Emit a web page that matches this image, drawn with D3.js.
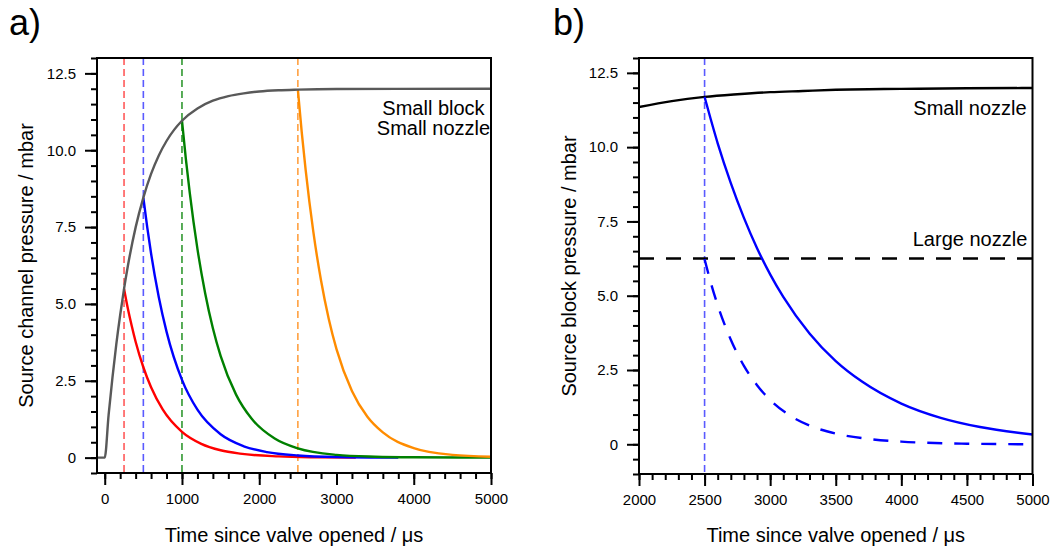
<!DOCTYPE html>
<html>
<head>
<meta charset="utf-8">
<script src="https://cdn.jsdelivr.net/npm/d3@7"></script>
<style>
  html, body { margin: 0; padding: 0; background: #fff; }
  svg { display: block; font-family: "Liberation Sans", Arial, sans-serif; }
</style>
</head>
<body>
<svg id="chart" width="1054" height="551"></svg>
<script>
// ---- Panel a: source channel pressure ----
const channelTime = [-100, 0, 50, 100, 150, 200, 250, 300, 400, 500, 600, 700, 800, 900, 1000, 1200, 1400, 1600, 1800, 2000, 2250, 2500, 3000, 5000];
const channelFill = [0, 0, 1.38, 2.60, 3.69, 4.64, 5.49, 6.24, 7.49, 8.46, 9.23, 9.83, 10.30, 10.67, 10.96, 11.36, 11.61, 11.76, 11.85, 11.91, 11.95, 11.97, 11.99, 12.00];

const close250Time = [250, 300, 350, 400, 500, 600, 750, 1000, 1250, 1500, 1750, 2250, 2750, 3250];
const close250Vals = [5.49, 4.84, 4.28, 3.77, 2.94, 2.29, 1.57, 0.84, 0.45, 0.24, 0.13, 0.04, 0.01, 0.00];

const close500Time = [500, 550, 600, 700, 800, 1000, 1200, 1500, 1800, 2100, 2500, 3000, 3800];
const close500Vals = [8.46, 7.50, 6.64, 5.22, 4.10, 2.53, 1.56, 0.76, 0.37, 0.18, 0.07, 0.02, 0.00];

const close1000Time = [1000, 1050, 1100, 1200, 1300, 1400, 1500, 1700, 1900, 2200, 2500, 3000, 3500, 4000, 5000];
const close1000Vals = [10.96, 9.72, 8.63, 6.79, 5.35, 4.21, 3.31, 2.05, 1.27, 0.62, 0.30, 0.09, 0.03, 0.01, 0.00];

const close2500Time = [2500, 2550, 2600, 2700, 2800, 2900, 3000, 3200, 3400, 3600, 4000, 4500, 5000];
const close2500Vals = [11.97, 10.59, 9.38, 7.35, 5.76, 4.51, 3.53, 2.17, 1.33, 0.82, 0.31, 0.09, 0.03];

const valveCloseA = [250, 500, 1000, 2500];

// ---- Panel b: source block pressure ----
const blockTime = [2000, 2250, 2500, 2750, 3000, 3250, 3500, 4000, 4500, 5000];
const smallNozzleFill = [11.35, 11.55, 11.69, 11.78, 11.85, 11.89, 11.93, 11.96, 11.98, 11.99];

const largeNozzleTime = [2000, 5000];
const largeNozzleFill = [6.25, 6.25];

const smallDecayTime = [2500, 2600, 2700, 2800, 2900, 3000, 3100, 3300, 3500, 3700, 4000, 4300, 4600, 5000];
const smallDecayVals = [11.69, 10.13, 8.79, 7.62, 6.60, 5.72, 4.96, 3.73, 2.80, 2.11, 1.37, 0.89, 0.58, 0.33];

const largeDecayTime = [2500, 2550, 2600, 2650, 2700, 2800, 2900, 3000, 3150, 3300, 3500, 3750, 4000, 4500, 5000];
const largeDecayVals = [6.23, 5.40, 4.68, 4.06, 3.52, 2.64, 1.99, 1.49, 0.97, 0.63, 0.36, 0.18, 0.09, 0.02, 0.00];

const valveCloseB = [2500];

// ---- Tick labels ----
const yTickValues = [0, 2.5, 5, 7.5, 10, 12.5];
const yTickLabels = ["0", "2.5", "5.0", "7.5", "10.0", "12.5"];
const xTickValuesA = [0, 1000, 2000, 3000, 4000, 5000];
const xTickValuesB = [2000, 2500, 3000, 3500, 4000, 4500, 5000];

const svg = d3.select("#chart");
const zip = (xs, ys) => xs.map((x, i) => [x, ys[i]]);

function drawPanel(cfg) {
  const g = svg.append("g");
  const x = d3.scaleLinear().domain(cfg.xDomain).range([cfg.left, cfg.right]);
  const y = d3.scaleLinear().domain(cfg.yDomain).range([cfg.bottom, cfg.top]);

  const clipId = "clip-" + cfg.name;
  svg.append("clipPath").attr("id", clipId)
    .append("rect")
    .attr("x", cfg.left).attr("y", cfg.top)
    .attr("width", cfg.right - cfg.left).attr("height", cfg.bottom - cfg.top);

  const plot = g.append("g").attr("clip-path", `url(#${clipId})`);

  // valve closing markers
  plot.selectAll("line.marker")
    .data(cfg.markers)
    .join("line")
    .attr("class", "marker")
    .attr("x1", d => x(d.t)).attr("x2", d => x(d.t))
    .attr("y1", cfg.top).attr("y2", cfg.bottom)
    .attr("stroke", d => d.color)
    .attr("stroke-width", d => d.width)
    .attr("stroke-dasharray", "7,4");

  const line = d3.line()
    .x(d => x(d[0])).y(d => y(d[1]))
    .curve(d3.curveMonotoneX);

  plot.selectAll("path.series")
    .data(cfg.series)
    .join("path")
    .attr("class", "series")
    .attr("d", d => line(d.points))
    .attr("fill", "none")
    .attr("stroke", d => d.color)
    .attr("stroke-width", 2.4)
    .attr("stroke-dasharray", d => d.dash || null);

  // frame
  g.append("rect")
    .attr("x", cfg.left).attr("y", cfg.top)
    .attr("width", cfg.right - cfg.left).attr("height", cfg.bottom - cfg.top)
    .attr("fill", "none").attr("stroke", "#000").attr("stroke-width", 2);

  const styleAxis = sel => {
    sel.select(".domain").remove();
    sel.selectAll(".tick line").attr("stroke", "#000").attr("stroke-width", 2);
    sel.selectAll(".tick text").attr("fill", "#000")
      .style("font-family", "'Liberation Sans', Arial, sans-serif")
      .style("font-size", "15px");
  };

  // minor ticks
  g.append("g").attr("transform", `translate(0,${cfg.bottom})`)
    .call(d3.axisBottom(x).tickValues(d3.range(cfg.xMinor[0], cfg.xMinor[1] + 1e-9, cfg.xMinor[2])).tickSize(6).tickFormat(""))
    .call(styleAxis);
  g.append("g").attr("transform", `translate(${cfg.left},0)`)
    .call(d3.axisLeft(y).tickValues(d3.range(cfg.yMinor[0], cfg.yMinor[1] + 1e-9, cfg.yMinor[2])).tickSize(6).tickFormat(""))
    .call(styleAxis);

  // major ticks with labels
  g.append("g").attr("transform", `translate(0,${cfg.bottom})`)
    .call(d3.axisBottom(x).tickValues(cfg.xTicks).tickSize(12).tickPadding(8).tickFormat(d3.format("d")))
    .call(styleAxis);
  g.append("g").attr("transform", `translate(${cfg.left},0)`)
    .call(d3.axisLeft(y).tickValues(yTickValues).tickSize(12).tickPadding(9)
      .tickFormat((d, i) => yTickLabels[i]))
    .call(styleAxis);

  // axis titles
  g.append("text")
    .attr("x", (cfg.left + cfg.right) / 2).attr("y", 542)
    .attr("text-anchor", "middle").style("font-size", "20px")
    .text("Time since valve opened / \u03bcs");
  g.append("text")
    .attr("transform", `translate(${cfg.yTitleX},${(cfg.top + cfg.bottom) / 2}) rotate(-90)`)
    .attr("text-anchor", "middle").style("font-size", "20px")
    .text(cfg.yTitle);

  // panel letter
  g.append("text")
    .attr("x", cfg.letterX).attr("y", 35)
    .style("font-size", "36px")
    .text(cfg.letter);

  // annotations
  cfg.notes.forEach(n => {
    g.append("text")
      .attr("x", n.x).attr("y", n.y)
      .attr("text-anchor", "middle").style("font-size", "20px")
      .text(n.text);
  });
}

drawPanel({
  name: "a",
  left: 97, right: 491, top: 58, bottom: 473,
  xDomain: [-100, 5000], yDomain: [-0.5, 13],
  xTicks: xTickValuesA, xMinor: [0, 5000, 200], yMinor: [-0.5, 13, 0.5],
  yTitle: "Source channel pressure / mbar", yTitleX: 33,
  letter: "a)", letterX: 9,
  markers: [
    { t: valveCloseA[0], color: "#ff5a5a", width: 1.6 },
    { t: valveCloseA[1], color: "#5a5aff", width: 1.6 },
    { t: valveCloseA[2], color: "#008000", width: 1.3 },
    { t: valveCloseA[3], color: "#ffa040", width: 1.6 }
  ],
  series: [
    { points: zip(close250Time, close250Vals), color: "#ff0000" },
    { points: zip(close500Time, close500Vals), color: "#0000ff" },
    { points: zip(close1000Time, close1000Vals), color: "#008000" },
    { points: zip(close2500Time, close2500Vals), color: "#ff8c00" },
    { points: zip(channelTime, channelFill), color: "#595959" }
  ],
  notes: [
    { text: "Small block", x: 433.5, y: 115 },
    { text: "Small nozzle", x: 433.5, y: 135 }
  ]
});

drawPanel({
  name: "b",
  left: 639, right: 1032.5, top: 58, bottom: 474,
  xDomain: [2000, 5000], yDomain: [-1, 13],
  xTicks: xTickValuesB, xMinor: [2000, 5000, 100], yMinor: [-1, 13, 0.5],
  yTitle: "Source block pressure / mbar", yTitleX: 576,
  letter: "b)", letterX: 553,
  markers: [
    { t: valveCloseB[0], color: "#5a5aff", width: 1.6 }
  ],
  series: [
    { points: zip(blockTime, smallNozzleFill), color: "#000000" },
    { points: zip(largeNozzleTime, largeNozzleFill), color: "#000000", dash: "15,12" },
    { points: zip(smallDecayTime, smallDecayVals), color: "#0000ff" },
    { points: zip(largeDecayTime, largeDecayVals), color: "#0000ff", dash: "15,12" }
  ],
  notes: [
    { text: "Small nozzle", x: 970, y: 115 },
    { text: "Large nozzle", x: 970, y: 246 }
  ]
});
</script>
</body>
</html>
